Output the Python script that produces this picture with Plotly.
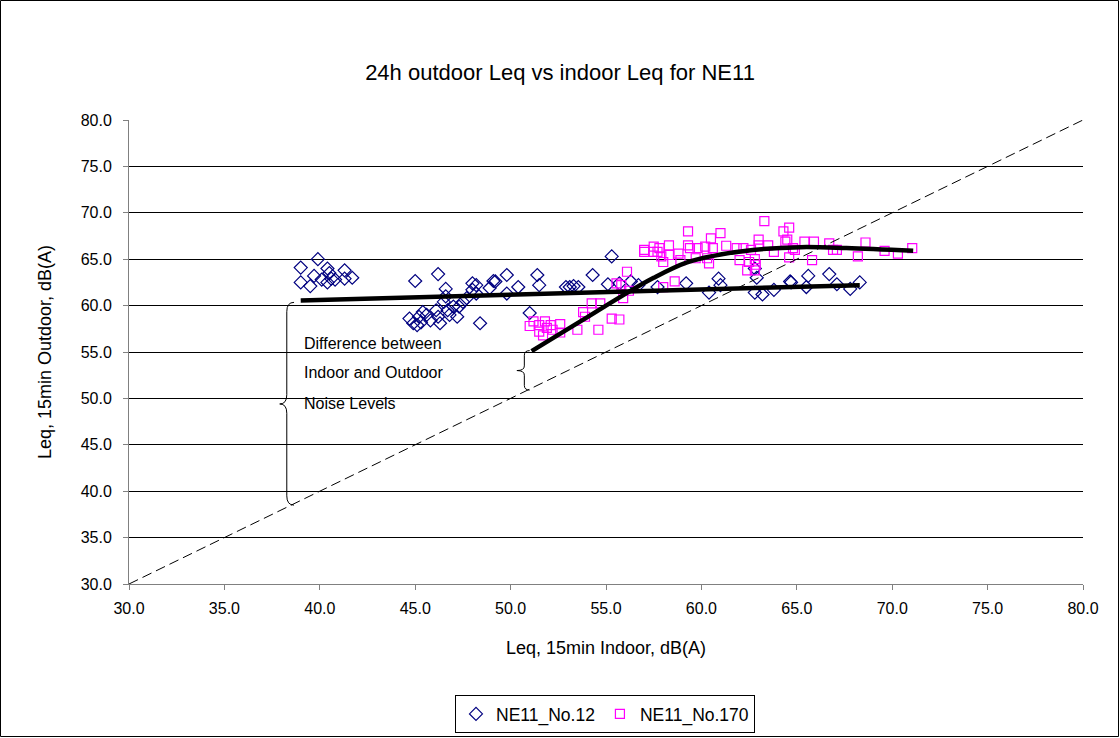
import plotly.graph_objects as go

# ---------------- data ----------------
no12_indoor = [39.0, 39.9, 39.7, 40.4, 39.0, 39.5, 40.1, 40.5, 40.6, 40.4, 40.8, 41.3, 41.7, 41.3,
               45.0, 46.2, 46.6, 44.7, 44.9, 45.2, 45.4, 45.6, 45.3, 45.1, 45.8, 46.1, 46.2, 46.3,
               46.5, 46.6, 46.7, 46.8, 47.0, 47.2, 47.3, 47.5, 47.7, 48.0, 48.2, 48.4, 48.9, 49.1,
               48.0, 48.2, 49.2, 49.8, 49.8, 50.4, 51.0, 51.4, 51.5, 52.9, 53.1, 53.3, 53.55,
               54.3, 55.1, 55.3, 55.7, 56.3, 56.7, 59.2, 57.7, 60.9, 61.0, 60.4, 62.8, 62.9, 62.8,
               63.2, 63.8, 64.65, 64.7, 65.6, 65.5, 66.7, 67.1, 67.8, 68.3]
no12_outdoor = [64.1, 65.0, 63.2, 64.0, 62.5, 62.1, 62.8, 63.5, 62.9, 62.5, 62.8, 63.8, 63.0, 62.9,
                62.65, 63.4, 61.8, 58.6, 58.1, 58.8, 59.3, 59.0, 58.2, 57.9, 58.4, 59.5, 58.8, 58.1,
                60.4, 61.0, 59.5, 59.0, 59.9, 58.8, 59.9, 60.4, 60.8, 62.4, 62.2, 58.1, 61.9, 62.65,
                61.7, 61.3, 62.6, 63.3, 61.3, 62.0, 59.2, 63.3, 62.2, 62.0, 62.0, 62.1, 62.0,
                63.3, 62.3, 65.3, 62.4, 62.6, 62.2, 62.4, 62.0, 62.9, 62.2, 61.4, 64.0, 63.0, 61.4,
                61.2, 61.7, 62.6, 62.5, 63.2, 62.0, 63.4, 62.3, 61.8, 62.5]

no170_indoor = [51.0, 51.2, 51.5, 51.8, 51.9, 51.5, 52.1, 52.2, 52.6, 52.6, 51.7, 53.5, 53.8, 53.9,
                54.25, 54.7, 54.6, 55.3, 55.7, 56.1, 55.55, 55.9, 55.8, 57.0, 57.5,
                57.0, 57.5, 57.7, 57.8, 57.9, 58.0, 58.3, 58.3, 58.8, 58.9, 59.3, 59.3, 59.4, 59.7,
                59.8, 60.2, 60.3, 60.4, 60.5, 60.6, 61.0, 61.3, 61.85, 62.2, 62.0, 62.5, 62.6, 63.0,
                63.0, 62.8, 62.85, 62.4, 62.8, 63.5, 63.8, 63.3, 64.3, 64.6, 64.5, 64.4, 64.8, 64.6,
                56.2, 58.6, 58.0, 65.4, 65.9, 64.9, 65.8, 66.7, 66.9, 67.1, 68.2, 68.6, 69.6, 70.3, 71.05]
no170_outdoor = [57.8, 58.3, 57.9, 58.3, 57.6, 57.2, 57.9, 57.4, 58.0, 57.1, 56.8, 57.4, 59.3, 58.8,
                 60.25, 60.25, 57.4, 58.6, 58.5, 63.65, 62.4, 60.8, 62.2, 65.8, 65.8,
                 66.0, 66.35, 65.8, 66.2, 65.3, 64.7, 66.5, 65.45, 65.6, 64.9, 66.5, 68.0, 66.2, 65.1,
                 66.2, 66.35, 65.1, 64.55, 67.25, 66.2, 67.8, 66.45, 66.2, 66.2, 64.9, 64.7, 66.0, 67.1,
                 66.5, 65.0, 64.4, 63.8, 63.8, 66.5, 65.8, 69.1, 68.0, 68.4, 67.1, 66.9, 66.2, 65.2,
                 61.6, 62.6, 62.0, 66.9, 66.9, 66.0, 64.9, 66.7, 66.0, 66.0, 65.3, 66.8, 65.9, 65.6, 66.2]

# trend lines
trend12_x = [39.0, 68.3]
trend12_y = [60.55, 62.2]
trend170_x = [51.1, 53.7, 55.8, 57.5, 59.25, 61.0, 62.7, 65.2, 67.6, 71.1]
trend170_y = [55.1, 58.35, 61.0, 63.0, 64.66, 65.5, 66.0, 66.3, 66.2, 65.9]

# equal-level reference line
equal_x = [30.0, 80.0]
equal_y = [30.0, 80.0]

ticks = [30, 35, 40, 45, 50, 55, 60, 65, 70, 75, 80]
tick_labels = ["30.0", "35.0", "40.0", "45.0", "50.0", "55.0", "60.0", "65.0", "70.0", "75.0", "80.0"]

note_lines = ["Difference between", "Indoor and Outdoor", "Noise Levels"]

# ---------------- layout geometry ----------------
W, H = 1120, 738
L, R, T, B = 129, 1083, 120, 584
FONT = "Liberation Sans, Arial, sans-serif"


def px_to_paper_x(px):
    return (px - L) / (R - L)


def px_to_paper_y(py):
    return (B - py) / (B - T)


fig = go.Figure()

fig.add_trace(go.Scatter(
    x=no12_indoor, y=no12_outdoor, mode="markers", name="NE11_No.12",
    marker=dict(symbol="diamond-open", size=10, color="#000080", line=dict(width=1.2, color="#000080")),
))
fig.add_trace(go.Scatter(
    x=no170_indoor, y=no170_outdoor, mode="markers", name="NE11_No.170",
    marker=dict(symbol="square-open", size=9, color="#FF00FF", line=dict(width=1.2, color="#FF00FF")),
))
fig.add_trace(go.Scatter(
    x=equal_x, y=equal_y, mode="lines", showlegend=False, hoverinfo="skip",
    line=dict(color="black", width=1, dash="10px,5px"),
))
fig.add_trace(go.Scatter(
    x=trend12_x, y=trend12_y, mode="lines", showlegend=False, hoverinfo="skip",
    line=dict(color="black", width=4.5),
))
fig.add_trace(go.Scatter(
    x=trend170_x, y=trend170_y, mode="lines", showlegend=False, hoverinfo="skip",
    line=dict(color="black", width=4.5, shape="spline", smoothing=1.0),
))


def brace_path(xs, xe, xt, yt, yb, ym, d):
    return (f"M {xe},{yt} Q {xs},{yt} {xs},{yt - d} "
            f"L {xs},{ym + d} Q {xs},{ym} {xt},{ym} "
            f"Q {xs},{ym} {xs},{ym - d} "
            f"L {xs},{yb + d} Q {xs},{yb} {xe},{yb}")


shapes = []
# white box behind the note
shapes.append(dict(type="rect", xref="x", yref="y", x0=38.8, x1=46.65, y0=48.3, y1=57.0,
                   fillcolor="white", line=dict(width=0), layer="below"))
# large brace
shapes.append(dict(type="path", xref="x", yref="y",
                   path=brace_path(38.27, 38.65, 37.9, 60.35, 38.5, 49.4, 1.0),
                   line=dict(color="black", width=1)))
# small brace
shapes.append(dict(type="path", xref="x", yref="y",
                   path=brace_path(50.72, 51.0, 50.33, 55.15, 50.9, 53.0, 0.5),
                   line=dict(color="black", width=1)))
# outer frame
shapes.append(dict(type="rect", xref="paper", yref="paper",
                   x0=px_to_paper_x(0.5), x1=px_to_paper_x(W - 1.5),
                   y0=px_to_paper_y(H - 1.5), y1=px_to_paper_y(0.5),
                   line=dict(color="black", width=1), fillcolor="rgba(0,0,0,0)"))

annotations = []
for line_text, yv in zip(note_lines, [55.97, 52.74, 49.4]):
    annotations.append(dict(x=39.05, y=yv, xref="x", yref="y", text=line_text, showarrow=False,
                            xanchor="left", yanchor="middle",
                            font=dict(family=FONT, size=16, color="black")))

fig.update_layout(
    width=W, height=H, autosize=False,
    margin=dict(l=L, r=W - R, t=T, b=H - B, autoexpand=False),
    paper_bgcolor="white", plot_bgcolor="white",
    font=dict(family=FONT, size=16, color="black"),
    title=dict(text="24h outdoor Leq vs indoor Leq for NE11", x=0.5, xref="container",
               y=1 - 72 / H, yref="container", xanchor="center", yanchor="middle",
               font=dict(family=FONT, size=22, color="black")),
    xaxis=dict(range=[30, 80], tickvals=ticks, ticktext=tick_labels, showgrid=False,
               zeroline=False, showline=True, linecolor="#808080", linewidth=1,
               ticks="outside", ticklen=5, tickcolor="#808080", ticklabelstandoff=5,
               tickfont=dict(family=FONT, size=16), automargin=False,
               title=dict(text="Leq, 15min Indoor, dB(A)", standoff=25,
                          font=dict(family=FONT, size=18))),
    yaxis=dict(range=[30, 80], tickvals=ticks, ticktext=tick_labels, showgrid=True,
               gridcolor="black", gridwidth=1, zeroline=False, showline=True,
               linecolor="#808080", linewidth=1, ticks="outside", ticklen=5, tickcolor="#808080",
               ticklabelstandoff=8, automargin=False,
               tickfont=dict(family=FONT, size=16),
               title=dict(text="Leq, 15min Outdoor, dB(A)", standoff=24,
                          font=dict(family=FONT, size=18))),
    legend=dict(orientation="h", x=px_to_paper_x(605), xanchor="center",
                y=px_to_paper_y(733), yanchor="bottom", bordercolor="black", borderwidth=1,
                bgcolor="white", font=dict(family=FONT, size=17.5), itemwidth=30,
                tracegroupgap=0),
    shapes=shapes,
    annotations=annotations,
    showlegend=True,
)

fig.write_html("out.html", config={"displayModeBar": False, "responsive": False},
               post_script="document.body.style.margin='0px';")
